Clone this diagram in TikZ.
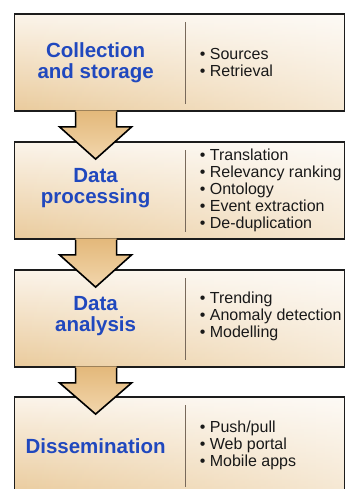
\documentclass[tikz,border=0pt]{standalone}
\usepackage{fontspec}
\setmainfont{Liberation Sans}
\usetikzlibrary{calc,fadings}
\definecolor{boxtop}{RGB}{251,244,234}
\definecolor{boxbot}{RGB}{234,203,156}
\definecolor{arrtop}{RGB}{227,184,122}
\definecolor{arrbot}{RGB}{242,214,172}
\definecolor{labelblue}{RGB}{32,72,190}
\definecolor{dividercol}{RGB}{120,105,90}
\definecolor{edgecol}{RGB}{28,28,28}
\definecolor{listtext}{RGB}{25,25,25}
\tikzfading[name=rightlight, left color=transparent!100, right color=transparent!45]
\newcommand\stagearrow[2]{%
  \shade[arrowfill] ($(#1.south west)+(62,-1.5)$) -- ($(#1.south west)+(62,15)$) -- ($(#1.south west)+(46,15)$) -- ($(#2.north west)+(82,18)$) -- ($(#1.south west)+(118,15)$) -- ($(#1.south west)+(103,15)$) -- ($(#1.south west)+(103,-1.5)$) -- cycle;
  \draw[arrowline] ($(#1.south west)+(62,0)$) -- ($(#1.south west)+(62,15)$) -- ($(#1.south west)+(46,15)$) -- ($(#2.north west)+(82,18)$) -- ($(#1.south west)+(118,15)$) -- ($(#1.south west)+(103,15)$) -- ($(#1.south west)+(103,0)$);
}
\newcommand\stagedivider[1]{%
  \draw[divline] ($(#1.north west)+(172,9)$) -- ($(#1.south west)+(172,-8)$);
}
\begin{document}
\begin{tikzpicture}[x=1pt,y=-1pt,
  stagebox/.style={rectangle, minimum width=330pt, minimum height=97pt, inner sep=0pt,
    draw=edgecol, line width=1.8pt, top color=boxtop, bottom color=boxbot,
    path picture={\fill[white,path fading=rightlight] (path picture bounding box.south west) rectangle (path picture bounding box.north east);}},
  lbl/.style={font=\bfseries\fontsize{20.5}{21}\selectfont, text=labelblue, align=center, inner sep=0pt},
  lst/.style={font=\fontsize{16}{17}\selectfont, text=listtext, align=left, anchor=west, inner sep=0pt},
  divline/.style={draw=dividercol, line width=1.3pt},
  arrowfill/.style={top color=arrtop, bottom color=arrbot},
  arrowline/.style={draw=black, line width=1.6pt, line join=miter}]
\useasboundingbox (0,0) rectangle (345,489);
\clip (0,0) rectangle (345,489);
\fill[white] (0,0) rectangle (345,489);
\node[stagebox] (b1) at (179.5,62.5) {};
\node[stagebox] (b2) at (179.5,190.5) {};
\node[stagebox] (b3) at (179.5,318.5) {};
\node[stagebox] (b4) at (179.5,445.5) {};
\stagedivider{b1}
\stagedivider{b2}
\stagedivider{b3}
\stagedivider{b4}
\node[lbl] (l1) at ($(b1.west)+(82,0)$) {Collection\\and storage};
\node[lbl] (l2) at ($(b2.west)+(82,-2)$) {Data\\processing};
\node[lbl] (l3) at ($(b3.west)+(82,-2)$) {Data\\analysis};
\node[lbl] (l4) at ($(b4.west)+(82,1)$) {Dissemination};
\node[lst] (r1) at ($(b1.west)+(186,0)$) {• Sources\\• Retrieval};
\node[lst] (r2) at ($(b2.west)+(186,0)$) {• Translation\\• Relevancy ranking\\• Ontology\\• Event extraction\\• De-duplication};
\node[lst] (r3) at ($(b3.west)+(186,-2)$) {• Trending\\• Anomaly detection\\• Modelling};
\node[lst] (r4) at ($(b4.west)+(186,0)$) {• Push/pull\\• Web portal\\• Mobile apps};
\stagearrow{b1}{b2}
\stagearrow{b2}{b3}
\stagearrow{b3}{b4}
\end{tikzpicture}
\end{document}
